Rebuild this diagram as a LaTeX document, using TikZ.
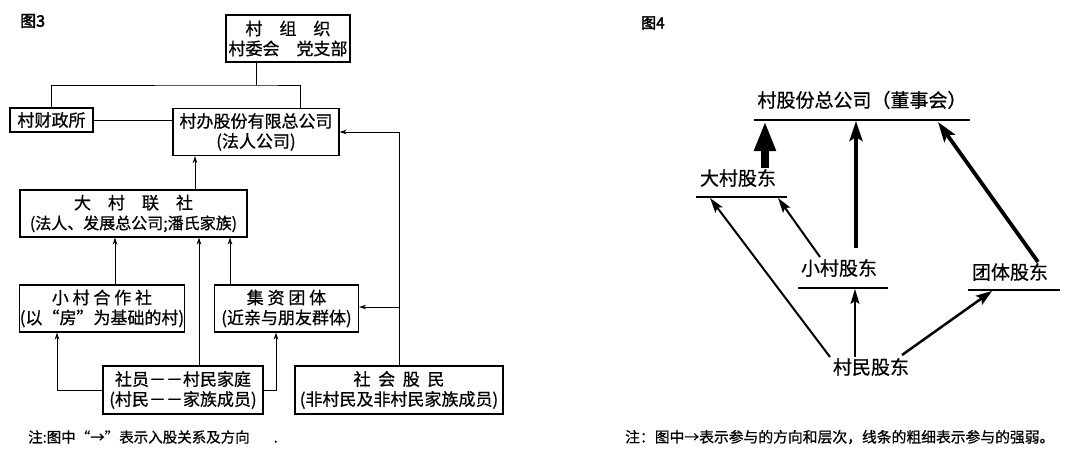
\documentclass[tikz,border=0pt]{standalone}
\usepackage{fontspec}
\setmainfont[FakeBold=0.7]{Noto Sans CJK SC}
\newfontfamily\fbold[FakeBold=2.5]{Noto Sans CJK SC}
\usetikzlibrary{arrows.meta,calc}
\begin{document}
\begin{tikzpicture}[x=1pt,y=-1pt,
  box/.style={draw,line width=1.1pt,inner sep=0pt,align=center,font=\fontsize{17}{20}\selectfont},
  conn/.style={line width=0.9pt},
  arr/.style={line width=0.9pt,-{Stealth[length=7pt,width=4.5pt]}},
  lab/.style={inner sep=2pt,font=\fontsize{19}{22}\selectfont},
  rline/.style={line width=1.1pt},
  note/.style={inner sep=0pt,anchor=west,font=\fontsize{14.8}{17}\selectfont}]
\useasboundingbox (0,0) rectangle (1080,460);
\fill[white] (0,0) rectangle (1080,460);

% ---------- Figure 3 ----------
\node[inner sep=0pt,anchor=west,font=\fbold\fontsize{16}{18}\selectfont] (f3) at (20,21) {图3};

\node[box,minimum width=124pt,minimum height=47pt] (org) at (288,38.5) {村\quad 组\quad 织\\村委会\quad 党支部};
\node[box,minimum width=83pt,minimum height=24pt] (fin) at (51.5,120) {村财政所};
\node[box,minimum width=166pt,minimum height=47pt] (corp) at (256,132) {村办股份有限总公司\\(法人公司)};
\node[box,minimum width=227pt,minimum height=47pt] (big) at (133.5,213.5) {大\quad 村\quad 联\quad 社\\{\fontsize{16}{20}\selectfont(法人、发展总公司;潘氏家族)}};
\node[box,minimum width=164pt,minimum height=47pt] (small) at (102,308.5) {小\ 村\ 合\ 作\ 社\\(以“房”为基础的村)};
\node[box,minimum width=144pt,minimum height=47pt] (fund) at (286.5,308.5) {集\ 资\ 团\ 体\\(近亲与朋友群体)};
\node[box,minimum width=160pt,minimum height=48pt] (mem) at (183,390) {社员－－村民家庭\\(村民－－家族成员)};
\node[box,minimum width=208pt,minimum height=48pt] (soc) at (399,390) {社\ \ 会\ \ 股\ \ 民\\(非村民及非村民家族成员)};

\coordinate (j) at (256,85);
\coordinate (x300) at (300,0);
\coordinate (x195) at (195,0);
\coordinate (x115) at (115,0);
\coordinate (x199) at (199,0);
\coordinate (x230) at (230,0);
\coordinate (x57) at (57,0);
\coordinate (x276) at (276,0);
\coordinate (x399) at (399,0);
\coordinate (y132) at (0,132);
\coordinate (y307) at (0,307);
\coordinate (y390) at (0,390);

\draw[conn] (org.south -| j) -- (j);
\draw[conn] (fin.north) |- (j) -| (corp.north -| x300);
\draw[conn] (fin.east) -- (fin.east -| corp.west);
\draw[arr] (big.north -| x195) -- (corp.south -| x195);
\draw[arr] (small.north -| x115) -- (big.south -| x115);
\draw[arr] (mem.north -| x199) -- (big.south -| x199);
\draw[arr] (fund.north -| x230) -- (big.south -| x230);
\draw[arr] (mem.west |- y390) -| (small.south -| x57);
\draw[arr] (mem.east |- y390) -| (fund.south -| x276);
\draw[arr] (soc.north -| x399) |- (corp.east |- y132);
\draw[arr] (x399 |- y307) -- (fund.east |- y307);

\node[note,font=\fontsize{14.5}{17}\selectfont] (n3) at (28,437) {注:图中“→”表示入股关系及方向\hspace{24pt}.};

% ---------- Figure 4 ----------
\node[inner sep=0pt,anchor=west,font=\fbold\fontsize{15}{18}\selectfont] (f4) at (641,23) {图4};

\node[lab] (top) at (862,100) {村股份总公司（董事会）};
\node[lab] (dc) at (738,178) {大村股东};
\node[lab] (xc) at (839,268) {小村股东};
\node[lab] (tt) at (1010,272) {团体股东};
\node[lab] (cm) at (871,367) {村民股东};

\coordinate (l0a) at (754,120); \coordinate (l0b) at (970,120);
\coordinate (l1a) at (696,197); \coordinate (l1b) at (787,197);
\coordinate (l2a) at (798,288); \coordinate (l2b) at (888,288);
\coordinate (l3a) at (968,290); \coordinate (l3b) at (1060,290);
\draw[rline] (l0a) -- (l0b);
\draw[rline] (l1a) -- (l1b);
\draw[rline] (l2a) -- (l2b);
\draw[rline] (l3a) -- (l3b);

\coordinate (e1) at (765,121);
\coordinate (e2) at (856,121);
\coordinate (e3) at (938,122);
\coordinate (e4) at (710,198);
\coordinate (e5) at (778,198);
\coordinate (e6) at (855,289);
\coordinate (e7) at (992,291);
\coordinate (s1) at (765,168);
\coordinate (s2) at (856,248);
\coordinate (s3) at (1038,262);
\coordinate (s4) at (830,357);
\coordinate (s5) at (820,257);
\coordinate (s6) at (855,357);
\coordinate (s7) at (902,355);

\draw[line width=8pt,-{Triangle[length=30pt,width=20pt]}] (s1) -- (e1);
\draw[line width=3.8pt,-{Stealth[length=20pt,width=13pt,inset=4pt]}] (s2) -- (e2);
\draw[line width=3.8pt,-{Stealth[length=20pt,width=13pt,inset=4pt]}] (s3) -- (e3);
\draw[line width=2pt,-{Stealth[length=15pt,width=9pt,inset=3pt]}] (s4) -- (e4);
\draw[line width=2pt,-{Stealth[length=15pt,width=9pt,inset=3pt]}] (s5) -- (e5);
\draw[line width=1.6pt,-{Stealth[length=15pt,width=9pt,inset=3pt]}] (s6) -- (e6);
\draw[line width=2.5pt,-{Stealth[length=16pt,width=11pt,inset=3pt]}] (s7) -- (e7);

\node[note] (n4) at (625,437) {注：图中→表示参与的方向和层次，线条的粗细表示参与的强弱。};
\end{tikzpicture}
\end{document}
